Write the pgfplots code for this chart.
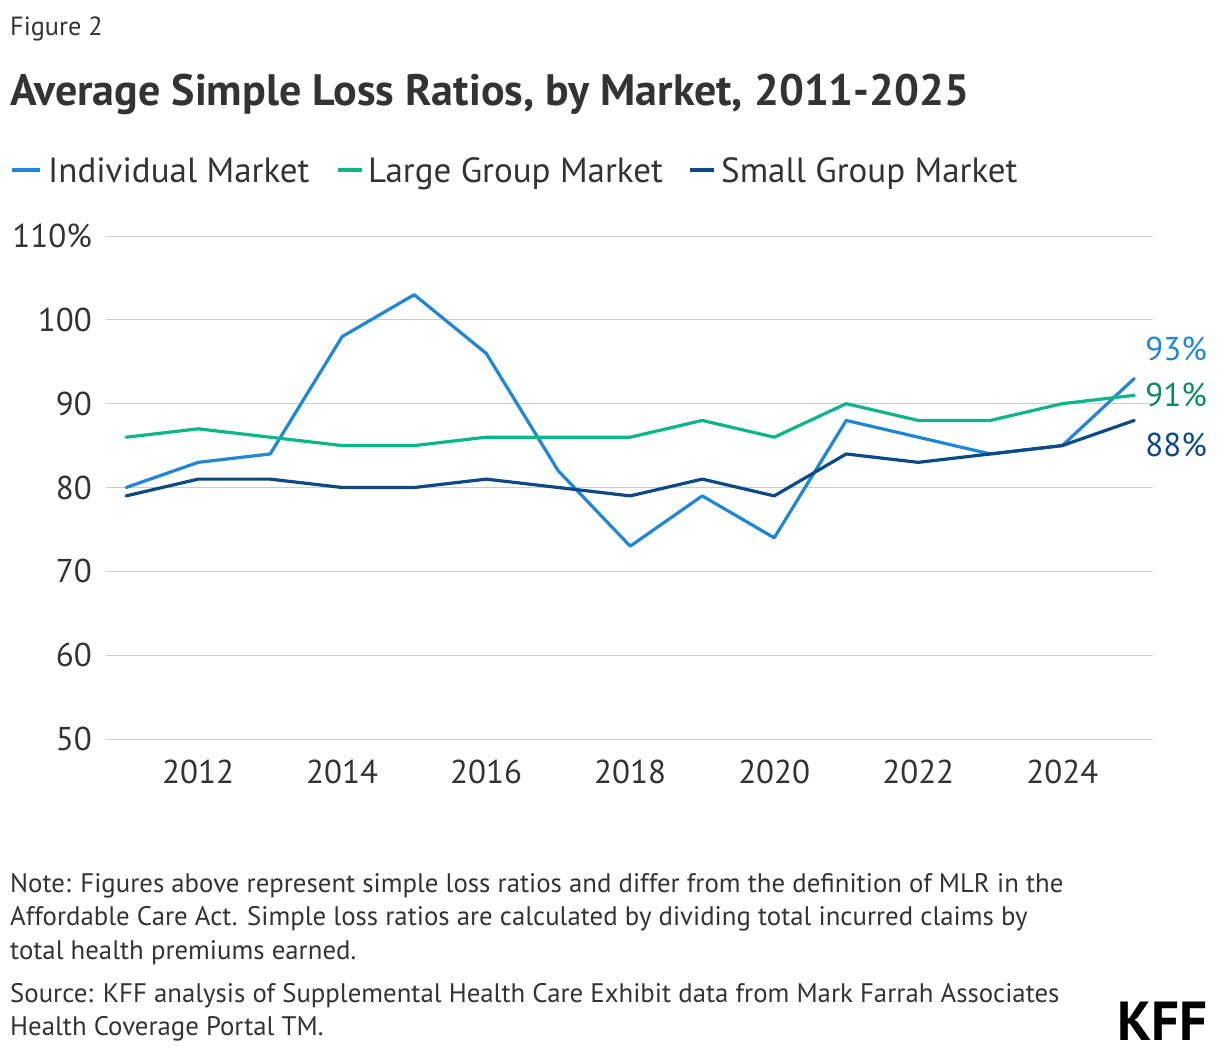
\documentclass[border=0pt]{standalone}
\usepackage{fontspec}
\setmainfont{PT Sans}
\usepackage{pgfplots}
\pgfplotsset{compat=1.18}

\definecolor{kffblue}{HTML}{1F86D8}
\definecolor{kffgreen}{HTML}{0DB58A}
\definecolor{kffnavy}{HTML}{0B4A86}
\definecolor{kffgreentxt}{HTML}{0A8A62}
\definecolor{txt}{HTML}{333333}
\definecolor{gridc}{HTML}{CCCCCC}

\newcommand{\fs}[1]{\fontsize{#1}{#1}\selectfont}

\begin{document}
\begin{tikzpicture}
% page frame
\path (0pt,0pt) rectangle (1220pt,-1054pt);

% heading
\node[anchor=base west, inner sep=0pt, text=txt, font=\fs{26.3}] at (10pt,-36pt) {Figure 2};
\node[anchor=base west, inner sep=0pt, text=txt, font=\fs{44}\bfseries] at (10pt,-106pt) {Average Simple Loss Ratios, by Market, 2011-2025};

% legend
\draw[kffblue, line width=3.2pt] (12pt,-170pt) -- (40pt,-170pt);
\node[anchor=base west, inner sep=0pt, text=txt, font=\fs{35}] at (48pt,-182pt) {Individual Market};
\draw[kffgreen, line width=3.2pt] (338pt,-170pt) -- (362pt,-170pt);
\node[anchor=base west, inner sep=0pt, text=txt, font=\fs{35}] at (368pt,-182pt) {Large Group Market};
\draw[kffnavy, line width=3.2pt] (690pt,-170pt) -- (714pt,-170pt);
\node[anchor=base west, inner sep=0pt, text=txt, font=\fs{35}] at (721pt,-182pt) {Small Group Market};

\begin{axis}[
  at={(106pt,-739pt)}, anchor=south west,
  scale only axis, width=1047pt, height=503pt,
  xmin=2010.72, xmax=2025.26, ymin=50, ymax=110,
  axis line style={draw=none},
  major tick length=0pt,
  ymajorgrids, grid style={gridc, line width=1pt},
  xtick={2012,2014,...,2024},
  ytick={50,60,...,110},
  yticklabels={50,60,70,80,90,100,110\%},
  /pgf/number format/1000 sep={},
  /pgf/number format/assume math mode=true,
  yticklabel style={inner sep=0pt, anchor=east, xshift=-14pt, text=txt, font=\fs{33}},
  xticklabel style={inner sep=0pt, anchor=north, yshift=-21pt, text=txt, font=\fs{33}},
  clip=false,
  every axis plot/.append style={line width=3.2pt, line join=round, line cap=round},
]
\addplot[kffblue] coordinates {
  (2011,80) (2012,83) (2013,84) (2014,98) (2015,103) (2016,96) (2017,82) (2018,73)
  (2019,79) (2020,74) (2021,88) (2022,86) (2023,84) (2024,85) (2025,93)};
\addplot[kffgreen] coordinates {
  (2011,86) (2012,87) (2013,86) (2014,85) (2015,85) (2016,86) (2017,86) (2018,86)
  (2019,88) (2020,86) (2021,90) (2022,88) (2023,88) (2024,90) (2025,91)};
\addplot[kffnavy] coordinates {
  (2011,79) (2012,81) (2013,81) (2014,80) (2015,80) (2016,81) (2017,80) (2018,79)
  (2019,81) (2020,79) (2021,84) (2022,83) (2023,84) (2024,85) (2025,88)};

\node[anchor=west, inner sep=0pt, text=kffblue, font=\fs{33}, xshift=11pt, yshift=30pt] at (axis cs:2025,93) {93\%};
\node[anchor=west, inner sep=0pt, text=kffgreentxt, font=\fs{33}, xshift=11pt, yshift=0pt] at (axis cs:2025,91) {91\%};
\node[anchor=west, inner sep=0pt, text=kffnavy, font=\fs{33}, xshift=11pt, yshift=-24pt] at (axis cs:2025,88) {88\%};
\end{axis}

% notes
\node[anchor=base west, inner sep=0pt, text=txt, font=\fs{26.8}] at (10pt,-892pt) {Note: Figures above represent simple loss ratios and differ from the definition of MLR in the};
\node[anchor=base west, inner sep=0pt, text=txt, font=\fs{26.8}] at (10pt,-925pt) {Affordable Care Act. Simple loss ratios are calculated by dividing total incurred claims by};
\node[anchor=base west, inner sep=0pt, text=txt, font=\fs{26.8}] at (10pt,-959pt) {total health premiums earned.};
\node[anchor=base west, inner sep=0pt, text=txt, font=\fs{26.8}] at (10pt,-1002pt) {Source: KFF analysis of Supplemental Health Care Exhibit data from Mark Farrah Associates};
\node[anchor=base west, inner sep=0pt, text=txt, font=\fs{26.8}] at (10pt,-1035pt) {Health Coverage Portal TM.};

% logo
\node[anchor=base east, inner sep=0pt, text=black, font=\fs{55}\bfseries] at (1208pt,-1040pt) {KFF};
\end{tikzpicture}
\end{document}
